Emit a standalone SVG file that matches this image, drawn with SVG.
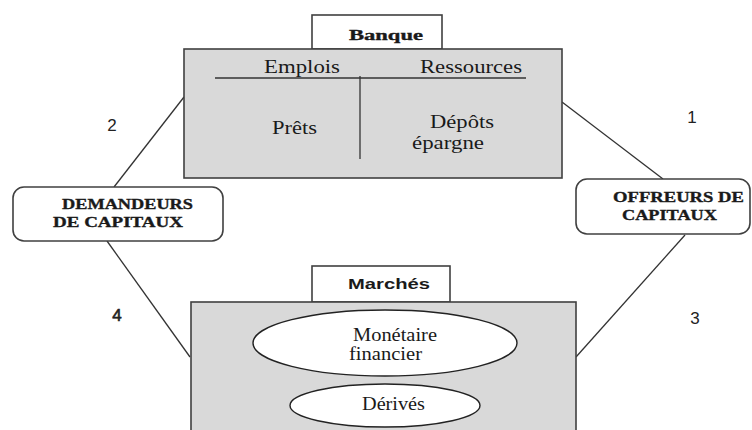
<svg xmlns="http://www.w3.org/2000/svg" width="752" height="430" viewBox="0 0 752 430">
<style>
.box{fill:#d9d9d9;stroke:#404040;stroke-width:1.6}
.tab{fill:#fff;stroke:#404040;stroke-width:1.6}
.rbox{fill:#fff;stroke:#404040;stroke-width:1.6}
.ell{fill:#fff;stroke:#222;stroke-width:1.4}
.ln{stroke:#333;stroke-width:1.3;fill:none}
.serif{font-family:"Liberation Serif","Times New Roman",serif;font-size:18px;fill:#1a1a1a}
.bserif{font-family:"Liberation Serif","Times New Roman",serif;font-size:15px;font-weight:bold;fill:#1a1a1a;stroke:#1a1a1a;stroke-width:0.35}
.sans{font-family:"Liberation Sans",Arial,sans-serif;fill:#1a1a1a}
.num{font-family:"Liberation Sans",Arial,sans-serif;font-size:17px;fill:#222;text-anchor:middle}
</style>
<rect width="752" height="430" fill="#fff"/>
<g id="connectors">
<line class="ln" x1="184" y1="97" x2="114" y2="187"/>
<line class="ln" x1="107" y1="241" x2="190" y2="357"/>
<line class="ln" x1="562" y1="102" x2="663" y2="179"/>
<line class="ln" x1="685" y1="235" x2="576" y2="357"/>
</g>
<g id="banque">
<rect class="tab" x="312" y="15" width="130" height="34"/>
<text class="bserif" x="349" y="40" font-size="16" textLength="74" lengthAdjust="spacingAndGlyphs">Banque</text>
<rect class="box" x="184" y="49" width="378" height="129"/>
<line class="ln" x1="215" y1="78" x2="526" y2="78" stroke-width="1.5"/>
<line class="ln" x1="360" y1="76" x2="360" y2="159" stroke-width="1.5"/>
<text class="serif" x="264" y="73" textLength="76" lengthAdjust="spacingAndGlyphs">Emplois</text>
<text class="serif" x="420" y="73" textLength="102" lengthAdjust="spacingAndGlyphs">Ressources</text>
<text class="serif" x="272" y="134" textLength="45" lengthAdjust="spacingAndGlyphs">Prêts</text>
<text class="serif" x="430" y="128" textLength="64" lengthAdjust="spacingAndGlyphs">Dépôts</text>
<text class="serif" x="412" y="149" textLength="72" lengthAdjust="spacingAndGlyphs">épargne</text>
</g>
<g id="demandeurs">
<rect class="rbox" x="13" y="187" width="210" height="54" rx="11"/>
<text class="bserif" x="62" y="209" textLength="131" lengthAdjust="spacingAndGlyphs">DEMANDEURS</text>
<text class="bserif" x="53" y="227" textLength="130" lengthAdjust="spacingAndGlyphs">DE CAPITAUX</text>
</g>
<g id="offreurs">
<rect class="rbox" x="576" y="179" width="174" height="55" rx="11"/>
<text class="bserif" x="613" y="202" textLength="131" lengthAdjust="spacingAndGlyphs">OFFREURS DE</text>
<text class="bserif" x="622" y="220" textLength="95" lengthAdjust="spacingAndGlyphs">CAPITAUX</text>
</g>
<g id="marches">
<rect class="tab" x="312" y="266" width="138" height="36"/>
<text class="sans" x="348" y="289" font-size="15" font-weight="bold" textLength="82" lengthAdjust="spacingAndGlyphs">Marchés</text>
<rect class="box" x="191" y="302" width="385" height="140"/>
<ellipse class="ell" cx="385" cy="343" rx="132" ry="33"/>
<text class="serif" x="353" y="341" textLength="84" lengthAdjust="spacingAndGlyphs">Monétaire</text>
<text class="serif" x="349" y="360" textLength="73" lengthAdjust="spacingAndGlyphs">financier</text>
<ellipse class="ell" cx="385" cy="405.5" rx="95" ry="21.5"/>
<text class="serif" x="362" y="410" textLength="63" lengthAdjust="spacingAndGlyphs">Dérivés</text>
</g>
<g id="numbers">
<text class="num" x="112" y="131">2</text>
<text class="num" x="692" y="123">1</text>
<text class="num" x="695" y="324">3</text>
<text class="num" x="117" y="321" font-size="19" stroke="#222" stroke-width="0.6">4</text>
</g>
</svg>
